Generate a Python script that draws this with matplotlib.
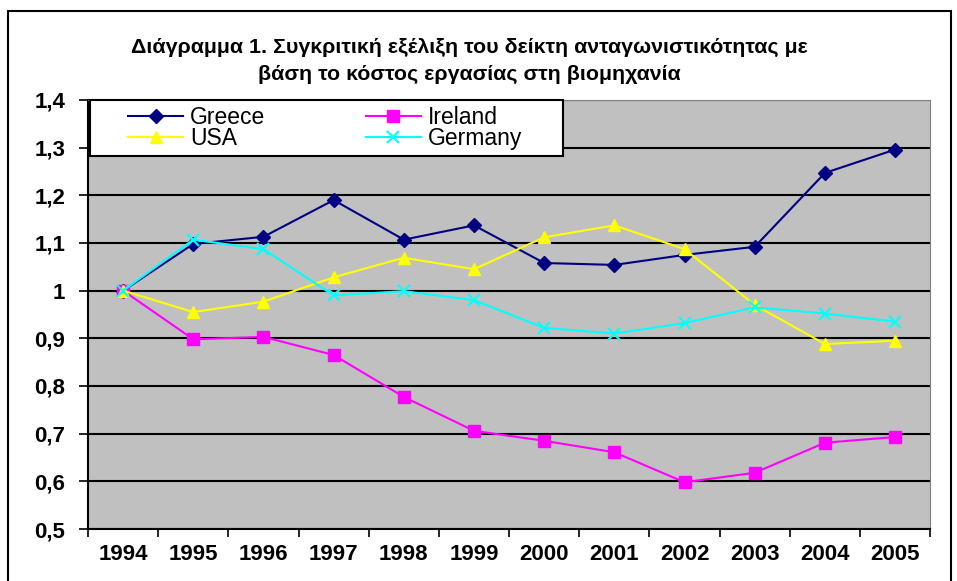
import matplotlib
matplotlib.use("Agg")
import matplotlib.pyplot as plt
import numpy as np
from matplotlib.patches import Rectangle

plt.rcParams['font.family'] = ['Liberation Sans', 'DejaVu Sans']

years = ['1994', '1995', '1996', '1997', '1998', '1999', '2000', '2001', '2002', '2003', '2004', '2005']
greece = [1.0, 1.098, 1.113, 1.19, 1.107, 1.137, 1.058, 1.054, 1.075, 1.092, 1.247, 1.296]
ireland = [1.0, 0.898, 0.903, 0.865, 0.777, 0.706, 0.685, 0.661, 0.598, 0.618, 0.681, 0.693]
usa = [1.0, 0.955, 0.977, 1.028, 1.069, 1.045, 1.112, 1.137, 1.087, 0.97, 0.888, 0.895]
germany = [1.0, 1.107, 1.087, 0.99, 0.999, 0.98, 0.922, 0.91, 0.932, 0.965, 0.952, 0.935]
yticks = [0.5, 0.6, 0.7, 0.8, 0.9, 1.0, 1.1, 1.2, 1.3, 1.4]
ylabels = ['0,5', '0,6', '0,7', '0,8', '0,9', '1', '1,1', '1,2', '1,3', '1,4']

W, H = 957, 581
fig = plt.figure(figsize=(W / 100, H / 100), dpi=100)
ax = fig.add_axes([0.092, 0.0895, 0.880, 0.7384])
ax.set_facecolor('#C0C0C0')

x = np.arange(len(years))
l_gr, = ax.plot(x, greece, color='#000080', marker='D', markersize=7, lw=1.5, label='Greece', zorder=3)
l_ir, = ax.plot(x, ireland, color='#FF00FF', marker='s', markersize=8, lw=1.5, label='Ireland', zorder=3)
l_us, = ax.plot(x, usa, color='#FFFF00', marker='^', markersize=9, lw=1.5, label='USA', zorder=3)
l_de, = ax.plot(x, germany, color='#00FFFF', marker='x', markersize=8, mew=1.5, lw=1.5, label='Germany', zorder=3)

ax.set_xlim(-0.5, len(years) - 0.5)
ax.set_ylim(0.5, 1.4)
ax.set_yticks(yticks)
ax.set_yticklabels(ylabels, fontsize=16, fontweight='bold')
ax.set_xticks(x)
ax.set_xticklabels(years, fontsize=16, fontweight='bold')
ax.set_xticks(np.arange(-0.5, len(years)), minor=True)
ax.tick_params(axis='x', which='major', length=0, pad=11)
ax.tick_params(axis='x', which='minor', length=6, width=1.2, direction='out')
ax.tick_params(axis='y', length=6.5, width=1.2, direction='out', pad=10)
ax.yaxis.grid(True, color='black', lw=1.5)
ax.set_axisbelow(True)
for s in ['top', 'right']:
    ax.spines[s].set_color('#808080')
ax.spines['left'].set_linewidth(1.5)
ax.spines['bottom'].set_linewidth(1.5)

# legend box drawn separately, entries row-wise: Greece, Ireland / USA, Germany
ax.add_patch(Rectangle((90 / W, 1 - 156 / H), 473 / W, 56 / H, transform=fig.transFigure,
                       facecolor='white', edgecolor='black', lw=1.5, zorder=4, clip_on=False))
leg = ax.legend([l_gr, l_us, l_ir, l_de], ['Greece', 'USA', 'Ireland', 'Germany'],
                ncol=2, loc='upper left', bbox_to_anchor=(128 / W, 1 - 106 / H),
                bbox_transform=fig.transFigure, fontsize=16.5,
                frameon=False, handlelength=2.4, columnspacing=4.4, borderpad=0, labelspacing=-0.08,
                handletextpad=0.3, borderaxespad=0)
leg.set_zorder(5)

fig.text(0.49, 0.895, 'Διάγραμμα 1. Συγκριτική εξέλιξη του δείκτη ανταγωνιστικότητας με\nβάση το κόστος εργασίας στη βιομηχανία',
         ha='center', va='center', fontsize=15.4, fontweight='bold', linespacing=1.5)

fig.patches.append(Rectangle((8 / W, -0.1), 943 / W, 1.1 - 11 / H, transform=fig.transFigure,
                             fill=False, edgecolor='black', lw=1.5))

fig.savefig('out.png', dpi=100)
